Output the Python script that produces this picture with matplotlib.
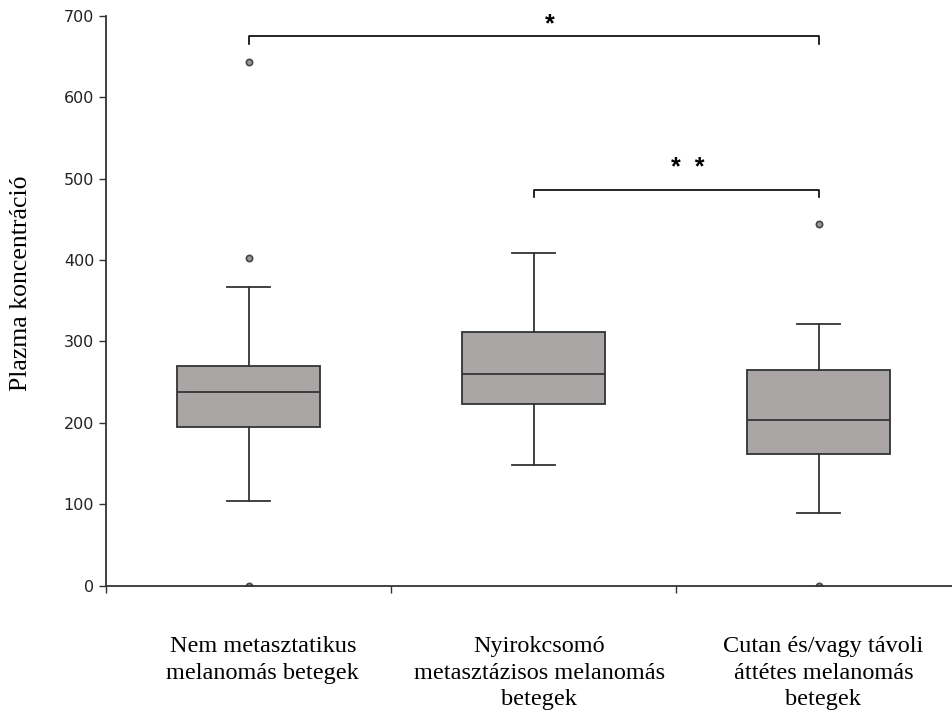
import matplotlib
matplotlib.use('Agg')
import matplotlib.pyplot as plt

groups = ['Nem metasztatikus\nmelanomás betegek',
          'Nyirokcsomó\nmetasztázisos melanomás\nbetegek',
          'Cutan és/vagy távoli\náttétes melanomás\nbetegek']
medians = [238, 260, 203]
q1s = [195, 223, 162]
q3s = [270, 312, 265]
whisk_lo = [104, 148, 89]
whisk_hi = [367, 409, 321]
outliers = [[0, 403, 643], [], [0, 444]]

# significance brackets: (group a, group b, height, label, label x, label y)
brackets = [(1, 3, 675, '*', 2.057, 681),
            (2, 3, 486, '*  *', 2.54, 505)]

stats = []
for i in range(len(groups)):
    stats.append(dict(med=medians[i], q1=q1s[i], q3=q3s[i],
                      whislo=whisk_lo[i], whishi=whisk_hi[i],
                      fliers=outliers[i]))

fig = plt.figure(figsize=(9.52, 7.15), dpi=100)
ax = fig.add_axes([106/952, 1-585.5/715, 855/952, 569.5/715])

pos = list(range(1, len(groups)+1))
ax.bxp(stats, positions=pos, widths=0.5, patch_artist=True, capwidths=0.15,
       boxprops=dict(facecolor='#aaa6a6', edgecolor='#333333', linewidth=1.3),
       medianprops=dict(color='#333333', linewidth=1.3),
       whiskerprops=dict(color='#333333', linewidth=1.3),
       capprops=dict(color='#333333', linewidth=1.3),
       flierprops=dict(marker='o', markersize=4.5, markerfacecolor='#999999',
                       markeredgecolor='#444444', markeredgewidth=1.2))

for a, b, h, lab, lx, ly in brackets:
    ax.plot([a, a, b, b], [h-9, h, h, h-9], color='black', lw=1.2,
            clip_on=False)
    ax.text(lx, ly, lab, ha='center', va='baseline', fontsize=18,
            family='Liberation Sans', fontweight='bold')

ax.set_xlim(0.5, 3.5)
ax.set_ylim(0, 700)
ax.set_yticks(range(0, 701, 100))
ax.tick_params(axis='y', labelsize=11.5, length=5, width=1, color='#333333',
               labelcolor='#222222')
for t in ax.get_yticklabels():
    t.set_family('DejaVu Sans')

# category dividers as ticks, names placed under the box centres
ax.set_xticks([0.5, 1.5, 2.5])
ax.set_xticklabels([])
ax.tick_params(axis='x', length=5, width=1, color='#333333')
label_x = [1.05, 2.02, 3.017]
for p, g in zip(label_x, groups):
    ax.text(p, -62, g, ha='center', va='top', fontsize=17.5,
            family='Liberation Serif', linespacing=1.35)

fig.text(21/952, 1-283/715, 'Plazma koncentráció', rotation=90,
         ha='center', va='center', family='Liberation Serif', fontsize=18.5)
for s in ['top', 'right']:
    ax.spines[s].set_visible(False)
for s in ['left', 'bottom']:
    ax.spines[s].set_color('#333333')
    ax.spines[s].set_linewidth(1.3)

fig.savefig('out.png', dpi=100)
